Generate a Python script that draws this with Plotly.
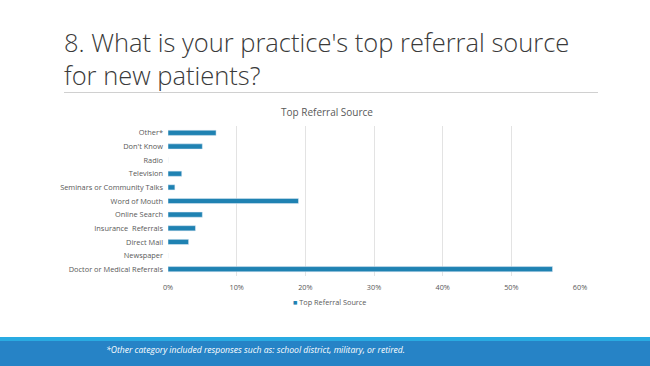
import plotly.graph_objects as go

categories = ["Doctor or Medical Referrals", "Newspaper", "Direct Mail", "Insurance  Referrals",
              "Online Search", "Word of Mouth", "Seminars or Community Talks", "Television",
              "Radio", "Don't Know", "Other*"]
values = [0.56, 0.0, 0.03, 0.04, 0.05, 0.19, 0.01, 0.02, 0.0, 0.05, 0.07]
tick_vals = [0, 0.1, 0.2, 0.3, 0.4, 0.5, 0.6]
tick_text = ["0%", "10%", "20%", "30%", "40%", "50%", "60%"]
series_name = "Top Referral Source"

W, H = 650, 366
L, R, T, B = 168, 70, 126, 90
PW, PH = W - L - R, H - T - B
BAR_COLOR = "#1F82B2"

def px(x):
    return (x - L) / PW

def py(y):
    return (H - B - y) / PH

fig = go.Figure()
fig.add_trace(go.Bar(
    y=categories, x=values, orientation="h", name=series_name,
    marker=dict(color=BAR_COLOR), showlegend=False,
))

fig.update_layout(
    width=W, height=H,
    margin=dict(l=L, r=R, t=T, b=B),
    paper_bgcolor="white", plot_bgcolor="white",
    bargap=0.62,
    font=dict(family="Open Sans", color="#595959", size=7),
    xaxis=dict(range=[0, 0.6], tickvals=tick_vals, ticktext=tick_text,
               showgrid=True, gridcolor="#E3E3E3", gridwidth=1, zeroline=False,
               showline=False, ticks="", tickfont=dict(size=7.3, color="#595959"),
               ticklabelstandoff=6, fixedrange=True),
    yaxis=dict(categoryorder="array", categoryarray=categories, showgrid=False,
               zeroline=False, showline=False, ticks="", ticklen=0,
               tickfont=dict(size=7.4, color="#595959"), ticklabelstandoff=4,
               fixedrange=True),
    showlegend=False,
)

shapes = [
    dict(type="line", xref="paper", yref="paper", x0=px(64), x1=px(598), y0=py(92.5), y1=py(92.5),
         line=dict(color="#D0D0D0", width=1), layer="above"),
    dict(type="rect", xref="paper", yref="paper", x0=px(-5), x1=px(W + 5), y0=py(337), y1=py(341),
         fillcolor="#29ABE2", line=dict(width=0)),
    dict(type="rect", xref="paper", yref="paper", x0=px(-5), x1=px(W + 5), y0=py(341), y1=py(H + 5),
         fillcolor="#2683C6", line=dict(width=0)),
]
fig.update_layout(shapes=shapes)

title_font = dict(family="Open Sans", size=25.5, color="#3A3A3A", weight=300)
annotations = [
    dict(text="8. What is your practice's top referral source<br>for new patients?",
         xref="paper", yref="paper", align="left",
         x=px(62), y=py(59), xanchor="left", yanchor="middle", showarrow=False,
         font=title_font),
    dict(text="Top Referral Source", xref="paper", yref="paper",
         x=px(327), y=py(112), xanchor="center", yanchor="middle", showarrow=False,
         font=dict(family="Open Sans", size=10, color="#595959")),
    dict(text=f"<span style='color:{BAR_COLOR}'>■</span> {series_name}", xref="paper", yref="paper",
         x=px(291), y=py(302), xanchor="left", yanchor="middle", showarrow=False,
         font=dict(family="Open Sans", size=7.3, color="#595959")),
    dict(text="<i>*Other category included responses such as: school district, military, or retired.</i>",
         xref="paper", yref="paper", x=px(104), y=py(350), xanchor="left", yanchor="middle",
         showarrow=False, font=dict(family="Open Sans", size=8.6, color="white")),
]
fig.update_layout(annotations=annotations)

fig.write_html("out.html", config={"displayModeBar": False},
               post_script="document.body.style.margin='0';document.body.style.overflow='hidden';")
